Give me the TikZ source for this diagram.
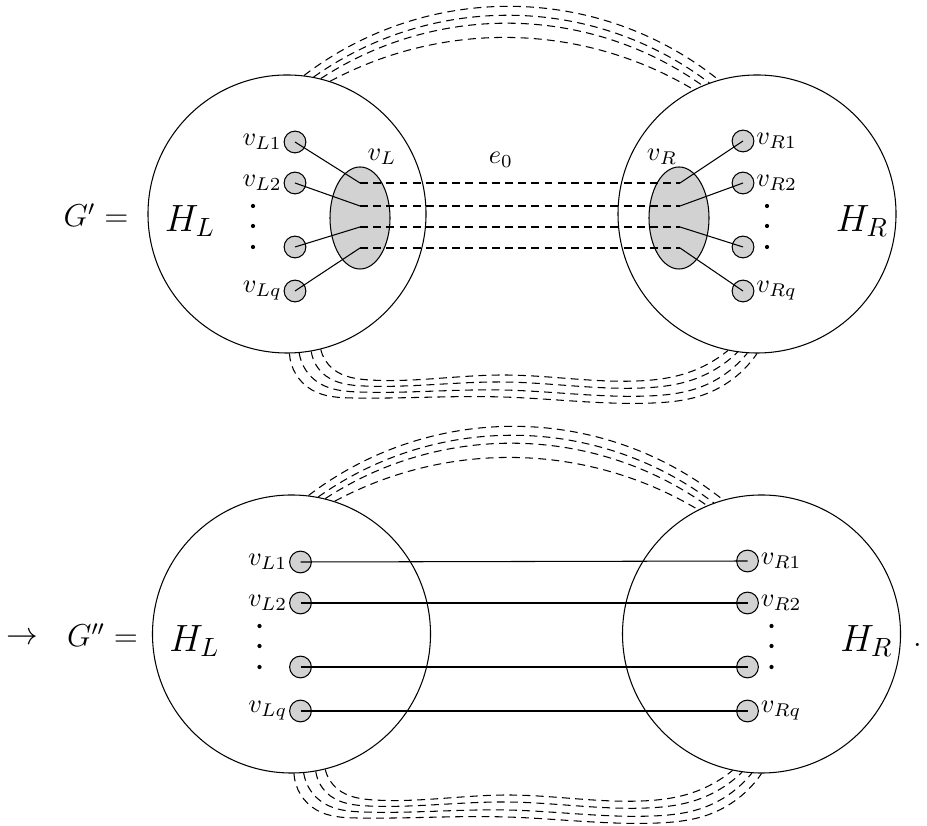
\documentclass[tikz,border=0pt]{standalone}
\usepackage{amsmath, amssymb}
\usepackage{xcolor}
\usepackage{tikz}
\usetikzlibrary{calc, shapes.geometric}
\usetikzlibrary{hobby}

% the two big parts and the dashed bundles between them
\newcommand{\graphframe}{%
  \node[big] (HL) at (2.87,6.11) {};
  \node[big] (HR) at (7.57,6.11) {};
  \node (hl) at (1.90,6.04) {\Large $H_L$};
  \node (hr) at (8.62,6.04) {\Large $H_R$};
  \draw[bundle, use Hobby shortcut] (HL.83.4) .. (5.30,8.18) .. (HR.106.7);
  \draw[bundle, use Hobby shortcut] (HL.79.6) .. (5.30,8.09) .. (HR.110.2);
  \draw[bundle, use Hobby shortcut] (HL.76.3) .. (5.30,8.01) .. (HR.113.8);
  \draw[bundle, use Hobby shortcut] (HL.72.8) .. (5.25,7.87) .. (HR.117.4);
  \draw[bundle, use Hobby shortcut] (HL.-76.7) .. (3.33,4.56) .. (3.70,4.45)
    .. (5.03,4.50) .. (6.37,4.44) .. (6.87,4.52) .. (HR.-102.0);
  \draw[bundle, use Hobby shortcut] (HL.-80.9) .. (3.26,4.49) .. (3.64,4.39)
    .. (5.03,4.43) .. (6.42,4.37) .. (6.92,4.45) .. (HR.-98.3);
  \draw[bundle, use Hobby shortcut] (HL.-85.5) .. (3.19,4.42) .. (3.59,4.33)
    .. (5.03,4.35) .. (6.48,4.29) .. (6.98,4.37) .. (HR.-94.5);
  \draw[bundle, use Hobby shortcut] (HL.-89.6) .. (3.12,4.35) .. (3.53,4.27)
    .. (5.03,4.28) .. (6.53,4.22) .. (7.03,4.30) .. (HR.-90.8);
}

\begin{document}
\begin{tikzpicture}[x=1.333cm, y=1.333cm,
  bundle/.style={dash pattern=on 3pt off 2pt},
  big/.style={circle, draw, minimum size=3.706cm, inner sep=0pt},
  vtx/.style={circle, draw, fill=gray!35, minimum size=2.9mm, inner sep=0pt},
  blob/.style={ellipse, draw, fill=gray!35, minimum width=0.8cm,
    minimum height=1.36cm, inner sep=0pt},
  lab/.style={inner sep=0.5pt}]
\useasboundingbox (0,0) rectangle (9.27,8.25);

% G' with the contracted pair v_L, v_R
\begin{scope}
  \graphframe
  \node (gp) at (0.96,6.10) {\large $G' =$};
  \node[blob] (vL) at (3.60,6.07) {};
  \node[blob] (vR) at (6.79,6.07) {};
  \node (vLlab) at (3.82,6.68) {$v_L$};
  \node (vRlab) at (6.62,6.68) {$v_R$};
  \node (e0) at (5.01,6.65) {$e_0$};
  \node[vtx, label={[lab]left:$v_{L1}$}] (l1) at (2.95,6.83) {};
  \node[vtx, label={[lab]left:$v_{L2}$}] (l2) at (2.95,6.42) {};
  \node[vtx] (l3) at (2.95,5.78) {};
  \node[vtx, label={[lab]left:$v_{Lq}$}] (lq) at (2.95,5.34) {};
  \node[vtx, label={[lab]right:$v_{R1}$}] (r1) at (7.43,6.84) {};
  \node[vtx, label={[lab]right:$v_{R2}$}] (r2) at (7.43,6.42) {};
  \node[vtx] (r3) at (7.43,5.78) {};
  \node[vtx, label={[lab]right:$v_{Rq}$}] (rq) at (7.43,5.34) {};
  \fill (2.53,6.19) circle (0.8pt) (2.53,5.99) circle (0.8pt) (2.53,5.78) circle (0.8pt);
  \fill (7.67,6.19) circle (0.8pt) (7.67,5.99) circle (0.8pt) (7.67,5.78) circle (0.8pt);
  \coordinate (a1) at (3.60,6.42);
  \coordinate (a2) at (3.60,6.19);
  \coordinate (a3) at (3.60,5.98);
  \coordinate (a4) at (3.60,5.77);
  \coordinate (b1) at (6.80,6.42);
  \coordinate (b2) at (6.80,6.19);
  \coordinate (b3) at (6.80,5.98);
  \coordinate (b4) at (6.80,5.77);
  \draw (l1.center) -- (a1);
  \draw (l2.center) -- (a2);
  \draw (l3.center) -- (a3);
  \draw (lq.center) -- (a4);
  \draw (b1) -- (r1.center);
  \draw (b2) -- (r2.center);
  \draw (b3) -- (r3.center);
  \draw (b4) -- (rq.center);
  \draw[bundle] (a1) -- (b1);
  \draw[bundle] (a2) -- (b2);
  \draw[bundle] (a3) -- (b3);
  \draw[bundle] (a4) -- (b4);
\end{scope}

% G'' after removing v_L, v_R
\begin{scope}[shift={(0.045,-4.2)}]
  \graphframe
  \node (arr) at (0.18,6.06) {\large $\rightarrow$};
  \node (gpp) at (0.98,6.10) {\large $G'' =$};
  \node (dot) at (9.13,6.00) {\large .};
  \node[vtx, label={[lab]left:$v_{L1}$}] (l1) at (2.96,6.83) {};
  \node[vtx, label={[lab]left:$v_{L2}$}] (l2) at (2.96,6.42) {};
  \node[vtx] (l3) at (2.96,5.78) {};
  \node[vtx, label={[lab]left:$v_{Lq}$}] (lq) at (2.96,5.34) {};
  \node[vtx, label={[lab]right:$v_{R1}$}] (r1) at (7.43,6.84) {};
  \node[vtx, label={[lab]right:$v_{R2}$}] (r2) at (7.43,6.42) {};
  \node[vtx] (r3) at (7.43,5.78) {};
  \node[vtx, label={[lab]right:$v_{Rq}$}] (rq) at (7.43,5.34) {};
  \fill (2.55,6.19) circle (0.8pt) (2.55,5.99) circle (0.8pt) (2.55,5.78) circle (0.8pt);
  \fill (7.67,6.19) circle (0.8pt) (7.67,5.99) circle (0.8pt) (7.67,5.78) circle (0.8pt);
  \draw (l1.center) -- (r1.center);
  \draw (l2.center) -- (r2.center);
  \draw (l3.center) -- (r3.center);
  \draw (lq.center) -- (rq.center);
\end{scope}
\end{tikzpicture}
\end{document}
